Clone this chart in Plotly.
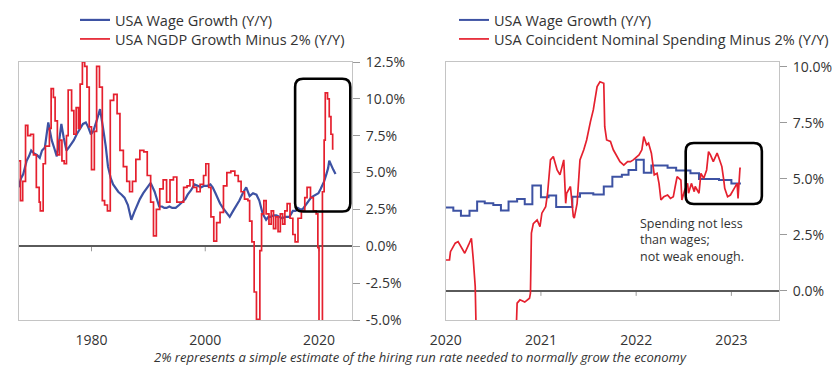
import plotly.graph_objects as go

# ---------------- data (decimal years, % Y/Y) ----------------
left_wage_year = [1967.2, 1967.6, 1968.0, 1968.6, 1969.0, 1969.4, 1969.9, 1970.4, 1970.9, 1971.3, 1971.8,
                  1972.1, 1972.4, 1972.7, 1973.0, 1973.5, 1973.9, 1974.3, 1974.7, 1975.1, 1975.6, 1976.0,
                  1976.4, 1976.9, 1977.4, 1977.9, 1978.5, 1979.0, 1979.4, 1979.9, 1980.3, 1980.9, 1981.5,
                  1982.0, 1982.5, 1982.9, 1983.4, 1983.8, 1984.3, 1984.7, 1985.3, 1985.8, 1986.4, 1987.0,
                  1987.5, 1987.9, 1988.5, 1989.1, 1989.8, 1990.4, 1991.1, 1991.5, 1991.9, 1992.4, 1992.8,
                  1993.2, 1993.7, 1994.2, 1994.8, 1995.4, 1996.0, 1996.5, 1996.9, 1997.5, 1998.1, 1998.7,
                  1999.3, 1999.8, 2000.4, 2000.9, 2001.3, 2001.8, 2002.2, 2002.6, 2003.1, 2003.7, 2004.3,
                  2004.9, 2005.4, 2006.0, 2006.6, 2007.2, 2007.8, 2008.4, 2009.0, 2009.5, 2010.1, 2010.7,
                  2011.1, 2011.5, 2012.0, 2012.5, 2013.0, 2013.5, 2014.1, 2014.8, 2015.4, 2015.9, 2016.3,
                  2016.7, 2017.1, 2017.7, 2018.1, 2018.6, 2019.0, 2019.4, 2019.9, 2020.3, 2020.6, 2020.9,
                  2021.3, 2021.6, 2021.8, 2022.0, 2022.2, 2022.5, 2022.9]
left_wage_val = [4.0, 4.6, 4.9, 5.8, 6.1, 6.5, 6.3, 6.2, 6.0, 6.5, 6.7,
                 7.4, 8.4, 7.8, 7.2, 6.6, 6.1, 7.1, 8.3, 7.4, 6.5, 6.7,
                 6.9, 7.2, 7.6, 7.9, 8.3, 8.4, 8.1, 7.6, 7.8, 8.5, 9.3,
                 8.1, 6.8, 5.4, 4.6, 4.2, 3.9, 3.7, 3.5, 3.3, 2.8, 1.8,
                 2.3, 2.7, 3.2, 3.6, 4.0, 4.3, 3.7, 3.2, 2.7, 2.7, 2.6,
                 2.6, 2.7, 2.6, 2.6, 2.8, 3.0, 3.2, 3.5, 3.8, 4.2, 4.1,
                 4.0, 4.1, 4.1, 4.2, 4.0, 3.6, 3.2, 2.9, 2.6, 2.3, 2.0,
                 2.4, 2.7, 3.1, 3.6, 4.0, 3.4, 3.6, 3.5, 3.1, 2.2, 1.8,
                 2.0, 2.0, 2.1, 2.1, 2.0, 1.9, 2.0, 2.0, 2.4, 2.4, 2.6,
                 2.5, 2.5, 2.8, 3.0, 3.3, 3.4, 3.5, 3.6, 3.9, 4.1, 4.4,
                 4.9, 5.3, 5.8, 5.6, 5.4, 5.2, 4.9]

left_ngdp_year = [1967.2, 1967.5, 1967.9, 1968.4, 1968.8, 1969.3, 1969.8, 1970.3, 1970.8, 1971.0, 1971.5,
                  1971.9, 1972.6, 1972.9, 1973.3, 1973.6, 1974.0, 1974.4, 1974.8, 1975.2, 1975.6, 1975.9,
                  1976.5, 1976.9, 1977.3, 1977.7, 1978.0, 1978.4, 1978.8, 1979.2, 1979.6, 1980.0, 1980.5,
                  1980.9, 1981.4, 1981.9, 1982.3, 1982.8, 1983.3, 1983.9, 1984.5, 1985.0, 1985.6, 1986.2,
                  1986.7, 1987.2, 1987.8, 1988.5, 1989.2, 1989.8, 1990.4, 1990.9, 1991.4, 1992.0, 1992.6,
                  1993.2, 1993.8, 1994.4, 1995.0, 1995.6, 1996.2, 1996.8, 1997.3, 1997.9, 1998.5, 1999.1,
                  1999.7, 2000.1, 2000.6, 2001.0, 2001.5, 2002.0, 2002.6, 2003.2, 2003.8, 2004.5, 2005.2,
                  2005.8, 2006.3, 2006.9, 2007.5, 2007.8, 2008.2, 2008.6, 2009.0, 2009.6, 2009.9, 2010.3,
                  2010.7, 2011.2, 2011.6, 2012.0, 2012.4, 2012.8, 2013.2, 2013.6, 2014.0, 2014.4, 2014.9,
                  2015.4, 2015.8, 2016.3, 2016.9, 2017.5, 2017.9, 2018.5, 2019.0, 2019.5, 2019.8, 2020.0,
                  2020.6, 2020.9, 2021.1, 2021.5, 2021.8, 2022.1, 2022.4, 2022.56]
left_ngdp_val = [5.8, 3.1, 4.4, 8.2, 7.5, 7.6, 6.2, 4.0, 3.0, 2.4, 5.6,
                 6.8, 8.0, 10.7, 10.1, 8.5, 6.2, 7.2, 5.8, 5.6, 7.5, 10.6,
                 9.2, 7.6, 9.4, 8.0, 11.0, 12.5, 12.2, 10.8, 8.1, 5.2, 7.8,
                 12.2, 10.8, 3.1, 2.8, 2.4, 9.9, 10.3, 9.0, 6.5, 5.4, 4.4,
                 3.7, 4.4, 5.9, 6.5, 6.4, 4.8, 3.0, 0.7, 2.5, 3.9, 4.5,
                 3.0, 4.5, 4.7, 3.0, 3.0, 4.0, 4.1, 4.5, 4.0, 3.7, 4.2,
                 4.8, 5.6, 4.0, 2.0, 0.35, 1.6, 2.3, 4.1, 5.0, 5.1, 4.8,
                 4.4, 3.7, 3.2, 3.1, 1.7, 0.3, -3.1, -4.95, -0.3, 2.2, 3.1,
                 2.2, 1.5, 2.4, 1.2, 2.0, 1.0, 2.2, 1.5, 2.4, 2.9, 1.9,
                 0.8, 0.3, 1.9, 2.4, 3.3, 4.0, 3.3, 2.4, 2.2, -0.1, -9.5,
                 3.7, 7.2, 10.4, 10.0, 8.8, 7.6, 6.6, 6.6]

right_wage_year = [2020.0, 2020.08, 2020.16, 2020.25, 2020.33, 2020.41, 2020.5, 2020.58, 2020.66, 2020.75,
                   2020.83, 2020.91, 2021.0, 2021.08, 2021.16, 2021.33, 2021.41, 2021.55, 2021.66, 2021.75,
                   2021.85, 2021.92, 2022.0, 2022.08, 2022.16, 2022.33, 2022.42, 2022.57, 2022.66, 2022.87,
                   2023.0, 2023.1]
right_wage_val = [3.72, 3.58, 3.36, 3.58, 3.99, 3.91, 3.84, 3.59, 3.99, 4.10,
                  3.87, 4.70, 4.18, 4.26, 3.74, 4.20, 4.36, 4.30, 4.66, 5.10,
                  5.18, 5.40, 5.85, 5.28, 5.60, 5.50, 5.37, 5.25, 5.00, 4.95,
                  4.80, 4.80]

right_spend_year = [2020.0, 2020.04, 2020.05, 2020.1, 2020.13, 2020.17, 2020.2, 2020.24, 2020.27, 2020.29,
                    2020.31, 2020.34, 2020.4, 2020.6, 2020.74, 2020.75, 2020.78, 2020.83, 2020.88, 2020.89,
                    2020.9, 2020.92, 2020.96, 2020.99, 2021.01, 2021.05, 2021.07, 2021.1, 2021.13, 2021.17,
                    2021.2, 2021.24, 2021.26, 2021.27, 2021.31, 2021.34, 2021.35, 2021.38, 2021.41, 2021.45,
                    2021.48, 2021.52, 2021.55, 2021.59, 2021.62, 2021.66, 2021.67, 2021.69, 2021.73, 2021.76,
                    2021.8, 2021.83, 2021.87, 2021.91, 2021.94, 2021.97, 2022.03, 2022.06, 2022.08, 2022.11,
                    2022.13, 2022.16, 2022.19, 2022.22, 2022.24, 2022.26, 2022.29, 2022.33, 2022.36, 2022.39,
                    2022.41, 2022.43, 2022.47, 2022.48, 2022.51, 2022.54, 2022.55, 2022.58, 2022.61, 2022.62,
                    2022.66, 2022.68, 2022.71, 2022.74, 2022.76, 2022.78, 2022.81, 2022.85, 2022.87, 2022.9,
                    2022.92, 2022.93, 2022.96, 2022.99, 2023.03, 2023.06, 2023.07, 2023.09, 2023.1]
right_spend_val = [1.38, 1.38, 1.75, 2.13, 2.2, 1.9, 1.68, 2.05, 2.35, 1.38,
                   0.2, -6.0, -10.0, -6.0, -1.8, -0.55, -0.4, -0.5, -0.33, -0.1,
                   2.58, 3.0, 3.17, 2.87, 3.47, 3.76, 4.36, 5.85, 6.0, 5.4,
                   5.18, 5.85, 3.91, 4.36, 4.66, 3.32, 3.25, 3.91, 5.85, 6.3,
                   6.74, 7.56, 8.08, 9.12, 9.34, 9.27, 7.33, 6.74, 6.67, 6.3,
                   6.0, 5.77, 5.62, 5.77, 5.77, 5.85, 6.07, 6.3, 6.89, 6.52,
                   6.6, 6.15, 5.18, 5.25, 4.8, 4.06, 4.2, 4.28, 4.13, 4.2,
                   4.66, 5.1, 4.95, 4.06, 4.5, 4.8, 4.36, 4.8, 4.43, 4.66,
                   4.36, 5.25, 5.03, 5.4, 6.22, 6.07, 5.77, 6.15, 5.92, 5.55,
                   4.95, 4.58, 4.2, 4.28, 4.58, 4.8, 4.13, 5.47, 5.47]

left_xticks = [1980, 2000, 2020]
left_yticks = [-5.0, -2.5, 0.0, 2.5, 5.0, 7.5, 10.0, 12.5]
right_xticks = [2020, 2021, 2022, 2023]
right_yticks = [0.0, 2.5, 5.0, 7.5, 10.0]

legend_left = ["USA Wage Growth (Y/Y)", "USA NGDP Growth Minus 2% (Y/Y)"]
legend_right = ["USA Wage Growth (Y/Y)", "USA Coincident Nominal Spending Minus 2% (Y/Y)"]
note_lines = ["Spending not less", "than wages;", "not weak enough."]
caption = "2% represents a simple estimate of the hiring run rate needed to normally grow the economy"

# ---------------- styling ----------------
W, H = 840, 380
RED = "#e5202e"
BLUE = "#3d52a3"
FONT = "Open Sans"
TXT = "#333333"
BORDER = "#c4c4c4"


def px_x(p):
    return p / W


def px_y(p):
    return 1 - p / H


def pct(v):
    return f"{v:.1f}%"


def rounded(x0, x1, y0, y1, rx, ry):
    return (f"M{x0 + rx},{y0} L{x1 - rx},{y0} Q{x1},{y0} {x1},{y0 + ry} "
            f"L{x1},{y1 - ry} Q{x1},{y1} {x1 - rx},{y1} L{x0 + rx},{y1} "
            f"Q{x0},{y1} {x0},{y1 - ry} L{x0},{y0 + ry} Q{x0},{y0} {x0 + rx},{y0} Z")


fig = go.Figure()
fig.add_trace(go.Scatter(x=left_wage_year, y=left_wage_val, name=legend_left[0], mode="lines",
                         line=dict(color=BLUE, width=2.2), xaxis="x", yaxis="y", legend="legend"))
fig.add_trace(go.Scatter(x=left_ngdp_year, y=left_ngdp_val, name=legend_left[1], mode="lines",
                         line=dict(color=RED, width=1.7, shape="hv"), xaxis="x", yaxis="y", legend="legend2"))
fig.add_trace(go.Scatter(x=right_wage_year, y=right_wage_val, name=legend_right[0], mode="lines",
                         line=dict(color=BLUE, width=2.0, shape="hv"), xaxis="x2", yaxis="y2", legend="legend3"))
fig.add_trace(go.Scatter(x=right_spend_year, y=right_spend_val, name=legend_right[1], mode="lines",
                         line=dict(color=RED, width=1.7), xaxis="x2", yaxis="y2", legend="legend4"))

common_x = dict(showgrid=False, zeroline=False, showline=True, mirror=True, linecolor=BORDER, linewidth=1,
                ticks="", tickfont=dict(family=FONT, size=14, color=TXT), ticklabelstandoff=7,
                automargin=False, fixedrange=True)
common_y = dict(showgrid=False, zeroline=True, zerolinecolor="#5a5a5a", zerolinewidth=1.5,
                showline=True, mirror=True, linecolor=BORDER, linewidth=1, side="right",
                ticks="outside", ticklen=7, tickcolor="#9a9a9a", tickwidth=1,
                tickfont=dict(family=FONT, size=14, color=TXT), ticklabelstandoff=3,
                automargin=False, fixedrange=True)

top, bottom = px_y(62), px_y(320)
legend_style = dict(xanchor="left", yanchor="middle", bgcolor="rgba(0,0,0,0)",
                    font=dict(family=FONT, size=14.5, color=TXT), tracegroupgap=0, itemwidth=30)
fig.update_layout(
    width=W, height=H, margin=dict(l=0, r=0, t=0, b=0, pad=0), autosize=False,
    paper_bgcolor="white", plot_bgcolor="white",
    font=dict(family=FONT, size=14, color=TXT),
    xaxis=dict(domain=[px_x(18.7), px_x(352)], range=[1967.2, 2025.8], anchor="y",
               tickvals=left_xticks, ticktext=[str(t) for t in left_xticks], **common_x),
    yaxis=dict(domain=[bottom, top], range=[-5, 12.5], anchor="x",
               tickvals=left_yticks, ticktext=[pct(v) for v in left_yticks], **common_y),
    xaxis2=dict(domain=[px_x(445.7), px_x(779)], range=[2020.0, 2023.5], anchor="y2",
                tickvals=right_xticks, ticktext=[str(t) for t in right_xticks], **common_x),
    yaxis2=dict(domain=[bottom, top], range=[-1.3, 10.22], anchor="x2",
                tickvals=right_yticks, ticktext=[pct(v) for v in right_yticks], **common_y),
    legend=dict(x=px_x(75), y=px_y(20), **legend_style),
    legend2=dict(x=px_x(75), y=px_y(39), **legend_style),
    legend3=dict(x=px_x(454), y=px_y(20), **legend_style),
    legend4=dict(x=px_x(454), y=px_y(39), **legend_style),
    showlegend=True,
)

shapes = []
# small tick marks on the zero line
for t in left_xticks:
    shapes.append(dict(type="line", xref="x", yref="y", x0=t, x1=t, ysizemode="pixel", yanchor=0,
                       y0=0, y1=-5, line=dict(color="#9a9a9a", width=1), layer="below"))
for t in right_xticks[1:]:
    shapes.append(dict(type="line", xref="x2", yref="y2", x0=t, x1=t, ysizemode="pixel", yanchor=0,
                       y0=0, y1=-5, line=dict(color="#9a9a9a", width=1), layer="below"))
# highlight boxes
shapes.append(dict(type="path", xref="x", yref="y",
                   path=rounded(2015.8, 2025.5, 2.36, 11.36, 1.4, 0.55),
                   line=dict(color="black", width=2.6), layer="above"))
shapes.append(dict(type="path", xref="x2", yref="y2",
                   path=rounded(2022.52, 2023.32, 3.88, 6.6, 0.085, 0.36),
                   line=dict(color="black", width=2.6), layer="above"))
fig.update_layout(shapes=shapes)

fig.add_annotation(x=2022.02, y=3.5, xref="x2", yref="y2", text="<br>".join(note_lines), showarrow=False,
                   xanchor="left", yanchor="top", align="left",
                   font=dict(family=FONT, size=12.5, color=TXT))
fig.add_annotation(x=0.5, y=px_y(357), xref="paper", yref="paper", text=f"<i>{caption}</i>",
                   showarrow=False, xanchor="center", yanchor="middle",
                   font=dict(family=FONT, size=13, color=TXT))

fig.write_html("out.html", config={"displayModeBar": False},
               post_script="document.body.style.margin='0';")
